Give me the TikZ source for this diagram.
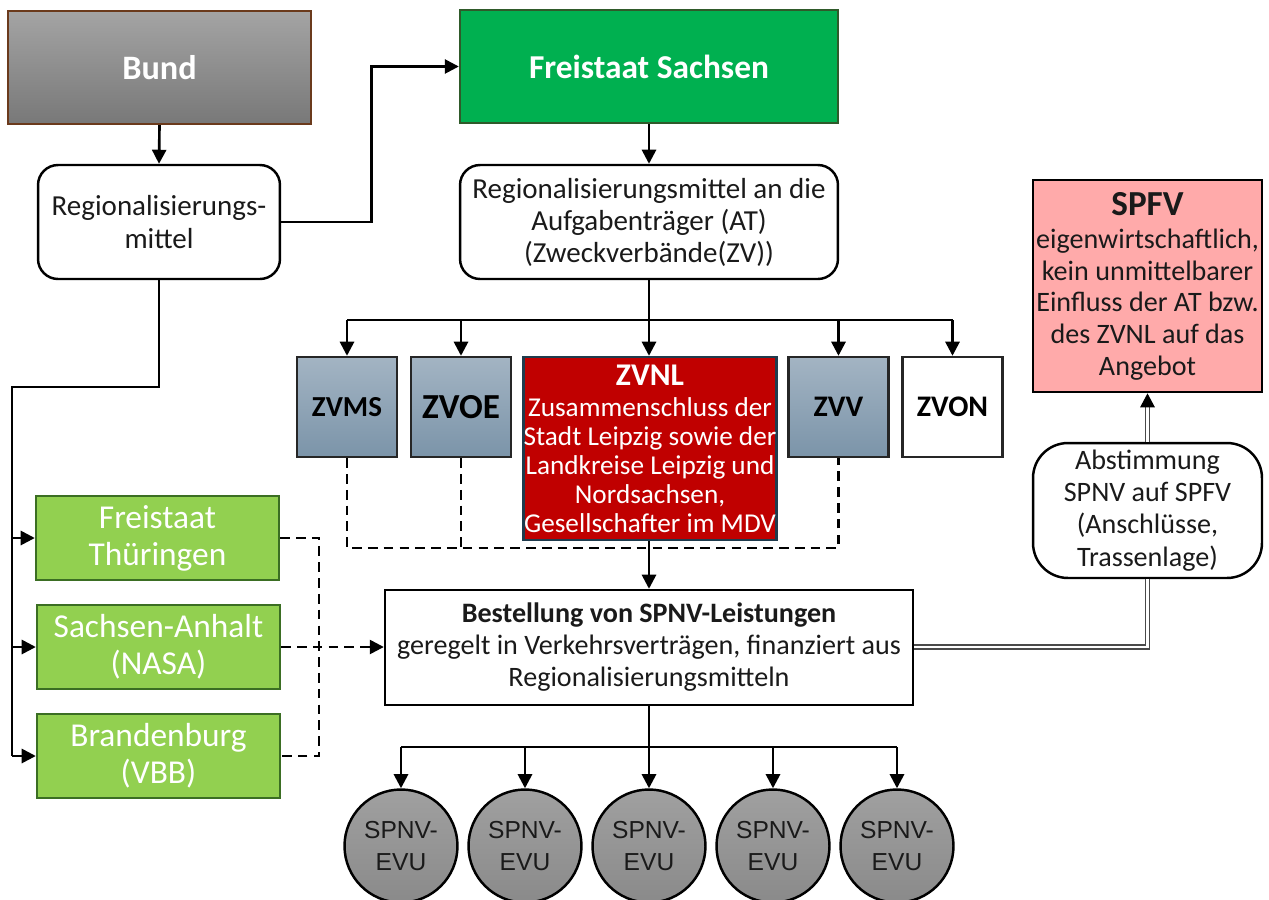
\documentclass[tikz,border=0pt]{standalone}
\usepackage{fontspec}
\setmainfont{Carlito}
\newfontfamily\arialf{Liberation Sans}
\usetikzlibrary{arrows.meta,calc}
\definecolor{bundtop}{HTML}{A4A4A4}
\definecolor{bundbot}{HTML}{787878}
\definecolor{bundborder}{HTML}{6B3A1C}
\definecolor{fsgreen}{HTML}{00B050}
\definecolor{fsborder}{HTML}{2F5A2A}
\definecolor{zvnlred}{HTML}{C00000}
\definecolor{zvnlborder}{HTML}{1F3B4D}
\definecolor{bgtop}{HTML}{A3B4C3}
\definecolor{bgbot}{HTML}{7B94A9}
\definecolor{lgreen}{HTML}{92D050}
\definecolor{lgborder}{HTML}{3B6E23}
\definecolor{pink}{HTML}{FFAAAA}
\definecolor{evutop}{HTML}{A0A0A0}
\definecolor{evubot}{HTML}{8A8A8A}
\definecolor{txt}{HTML}{1A1A1A}
\definecolor{dblline}{HTML}{4A4A4A}
\begin{document}
\begin{tikzpicture}[x=0.02cm,y=-0.02cm,
  base/.style={draw, line width=1.4pt, align=center, inner sep=0pt, text=txt},
  nfont/.style={font=\fontsize{16}{18}\selectfont},
  rbox/.style={base, nfont, rounded corners=0.4cm, fill=white},
  bundbox/.style={base, draw=bundborder, top color=bundtop, bottom color=bundbot, text=white,
     minimum width=6.06cm, minimum height=2.26cm, font=\bfseries\fontsize{19.5}{21}\selectfont},
  fsbox/.style={base, draw=fsborder, fill=fsgreen, text=white,
     minimum width=7.56cm, minimum height=2.26cm, font=\bfseries\fontsize{19}{21}\selectfont},
  zvbox/.style={base, draw=black!85, top color=bgtop, bottom color=bgbot, text=black,
     minimum width=2cm, minimum height=2cm},
  zvnlbox/.style={base, draw=zvnlborder, fill=zvnlred, text=white,
     minimum width=5cm, minimum height=3.66cm, font=\fontsize{15.5}{16.5}\selectfont},
  greenbox/.style={base, draw=lgborder, fill=lgreen, text=white,
     minimum width=4.86cm, minimum height=1.68cm, font=\fontsize{19}{21}\selectfont},
  whitebox/.style={base, fill=white, nfont},
  pinkbox/.style={base, draw=black, fill=pink, nfont,
     minimum width=4.58cm, minimum height=4.24cm},
  evu/.style={base, circle, top color=evutop, bottom color=evubot, minimum size=2.26cm,
     font=\arialf\fontsize{14}{18.5}\selectfont},
  conn/.style={line width=1.5pt, draw=black},
  arr/.style={conn, -{Triangle[length=8pt,width=8pt]}},
  dsh/.style={line width=1.4pt, dash pattern=on 5.5pt off 3.5pt},
  dbl/.style={draw=dblline, line width=0.8pt, double=white, double distance=1.4pt}
]
\useasboundingbox (0,0) rectangle (1269,900);

% top row
\node[bundbox] (bund) at (159.5,67.5) {Bund};
\node[rbox, minimum width=4.84cm, minimum height=2.28cm, font=\fontsize{16.5}{18.5}\selectfont] (r1) at (159,222) {Regionalisierungs-\\mittel};
\node[fsbox] (fs) at (649,66.5) {Freistaat Sachsen};
\node[rbox, minimum width=7.56cm, minimum height=2.28cm, font=\fontsize{16.5}{18.2}\selectfont] (r2) at (649,222) {Regionalisierungsmittel an die\\Aufgabenträger (AT)\\(Zweckverbände(ZV))};

% Zweckverbaende
\node[zvbox, font=\bfseries\fontsize{16.5}{18}\selectfont] (zvms) at (347,407) {ZVMS};
\node[zvbox, font=\bfseries\fontsize{20}{22}\selectfont] (zvoe) at (461,407) {ZVOE};
\node[zvnlbox] (zvnl) at (650,448.5) {{\bfseries\fontsize{18}{19}\selectfont ZVNL}\\[1pt]Zusammenschluss der\\Stadt Leipzig sowie der\\Landkreise Leipzig und\\Nordsachsen,\\Gesellschafter im MDV};
\node[zvbox, font=\bfseries\fontsize{17}{19}\selectfont] (zvv) at (838.5,407) {ZVV};
\node[zvbox, top color=white, bottom color=white, font=\bfseries\fontsize{17}{19}\selectfont] (zvon) at (952.5,407) {ZVON};

% SPFV side
\node[pinkbox] (spfv) at (1147.5,286) {{\bfseries\fontsize{20}{21}\selectfont SPFV}\\[1pt]eigenwirtschaftlich,\\kein unmittelbarer\\Einfluss der AT bzw.\\des ZVNL auf das\\Angebot};
\node[rbox, rounded corners=0.7cm, minimum width=4.58cm, minimum height=2.7cm, font=\fontsize{16}{18.3}\selectfont] (abst) at (1147.5,510.5) {Abstimmung\\SPNV auf SPFV\\(Anschlüsse,\\Trassenlage)};

% left states
\node[greenbox] (th) at (157.5,538) {Freistaat\\Thüringen};
\node[greenbox] (sa) at (158.5,647) {Sachsen-Anhalt\\(NASA)};
\node[greenbox] (bb) at (158.5,756) {Brandenburg\\(VBB)};

% Bestellung
\node[whitebox, minimum width=10.56cm, minimum height=2.3cm, font=\fontsize{16}{18.2}\selectfont] (best) at (649,647.5) {{\bfseries Bestellung von SPNV-Leistungen}\\geregelt in Verkehrsverträgen, finanziert aus\\Regionalisierungsmitteln};

% EVUs
\node[evu] (e1) at (401,846) {SPNV-\\EVU};
\node[evu] (e2) at (525,846) {SPNV-\\EVU};
\node[evu] (e3) at (649,846) {SPNV-\\EVU};
\node[evu] (e4) at (773,846) {SPNV-\\EVU};
\node[evu] (e5) at (897,846) {SPNV-\\EVU};

% coordinates
\coordinate (bz) at (649,320);
\coordinate (dl) at (649,548);
\coordinate (ly) at (12,387);
\coordinate (ez) at (649,747);

% connectors top
\draw[arr] (bund.south) -- (r1.north);
\draw[arr] (r1.east) -- ++(90,0) |- (fs.west);
\draw[arr] (fs.south) -- (r2.north);
\draw[conn] (r2.south) -- (bz);
\draw[conn] (zvms.north |- bz) -- (zvon.north |- bz);
\draw[arr] (zvms.north |- bz) -- (zvms.north);
\draw[arr] (zvoe.north |- bz) -- (zvoe.north);
\draw[arr] (bz) -- (bz |- zvnl.north);
\draw[arr] (zvv.north |- bz) -- (zvv.north);
\draw[arr] (zvon.north |- bz) -- (zvon.north);

% dashed from ZV
\draw[dsh] (zvms.south) -- (zvms.south |- dl) -| (zvv.south);
\draw[dsh] (zvoe.south) -- (zvoe.south |- dl);
\draw[arr] (bz |- zvnl.south) -- (bz |- best.north);

% left tree
\draw[conn] (r1.south) |- (ly) -- (ly |- bb.west);
\draw[arr] (ly |- th.west) -- (th.west);
\draw[arr] (ly |- sa.west) -- (sa.west);
\draw[arr] (ly |- bb.west) -- (bb.west);
\draw[dsh] (th.east) -- ++(39,0) |- (bb.east);
\draw[dsh, -{Triangle[length=8pt,width=8pt]}] (sa.east) -- (sa.east -| best.west);

% bottom tree
\draw[conn] (best.south) -- (ez);
\draw[conn] (e1.north |- ez) -- (e5.north |- ez);
\draw[arr] (e1.north |- ez) -- (e1.north);
\draw[arr] (e2.north |- ez) -- (e2.north);
\draw[arr] (ez) -- (e3.north);
\draw[arr] (e4.north |- ez) -- (e4.north);
\draw[arr] (e5.north |- ez) -- (e5.north);

% double connectors
\draw[dbl] (best.east |- sa.east) -| (abst.south);
\coordinate (tipbase) at ($(spfv.south)+(0,12)$);
\draw[dbl] (abst.north) -- (tipbase);
\draw[arr] (tipbase) -- (spfv.south);
\end{tikzpicture}
\end{document}
